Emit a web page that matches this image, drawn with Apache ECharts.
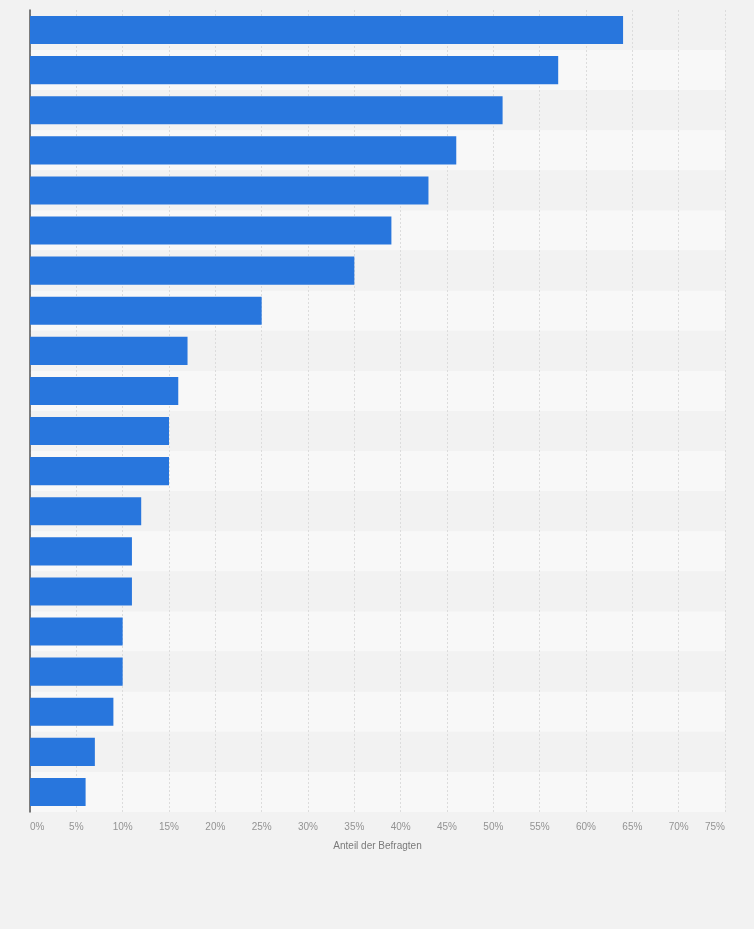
<!DOCTYPE html>
<html>
<head>
<meta charset="utf-8">
<script src="https://cdn.jsdelivr.net/npm/echarts@6/dist/echarts.min.js"></script>
<style>
  html, body { margin: 0; padding: 0; background: #f2f2f2; }
  #view { width: 754px; height: 929px; }
</style>
</head>
<body>
<div id="view"></div>
<script>
// categories are not labelled in the picture, keep simple placeholders
var categories = ['1', '2', '3', '4', '5', '6', '7', '8', '9', '10',
                  '11', '12', '13', '14', '15', '16', '17', '18', '19', '20'];
var shares = [64, 57, 51, 46, 43, 39, 35, 25, 17, 16, 15, 15, 12, 11, 11, 10, 10, 9, 7, 6];
var axisTitle = 'Anteil der Befragten';

var chart = echarts.init(document.getElementById('view'));
chart.setOption({
    backgroundColor: '#f2f2f2',
    animation: false,
    grid: {left: 30, right: 29, top: 10, bottom: 117},
    xAxis: {
        type: 'value',
        min: 0, max: 75, interval: 5,
        name: axisTitle,
        nameLocation: 'middle',
        nameGap: 29,
        nameTextStyle: {color: '#7a7a7a', fontSize: 10, fontFamily: 'Arial, Liberation Sans'},
        axisLine: {show: false},
        axisTick: {show: false},
        axisLabel: {
            formatter: '{value}%',
            color: '#939393', fontSize: 10, fontFamily: 'Arial, Liberation Sans',
            margin: 10,
            alignMinLabel: 'left', alignMaxLabel: 'right'
        },
        splitLine: {show: true, lineStyle: {color: '#dcdcdc', type: [2, 2], width: 1}}
    },
    yAxis: {
        type: 'category',
        data: categories,
        inverse: true,
        axisLine: {show: true, lineStyle: {color: '#555', width: 1.5}},
        axisTick: {show: false},
        axisLabel: {show: false},
        splitLine: {show: false},
        splitArea: {show: true, areaStyle: {color: ['#f2f2f2', '#f8f8f8']}}
    },
    series: [{
        type: 'bar',
        data: shares,
        barCategoryGap: '30%',
        itemStyle: {color: '#2876dd'},
        z: 3
    }]
});
</script>
</body>
</html>
